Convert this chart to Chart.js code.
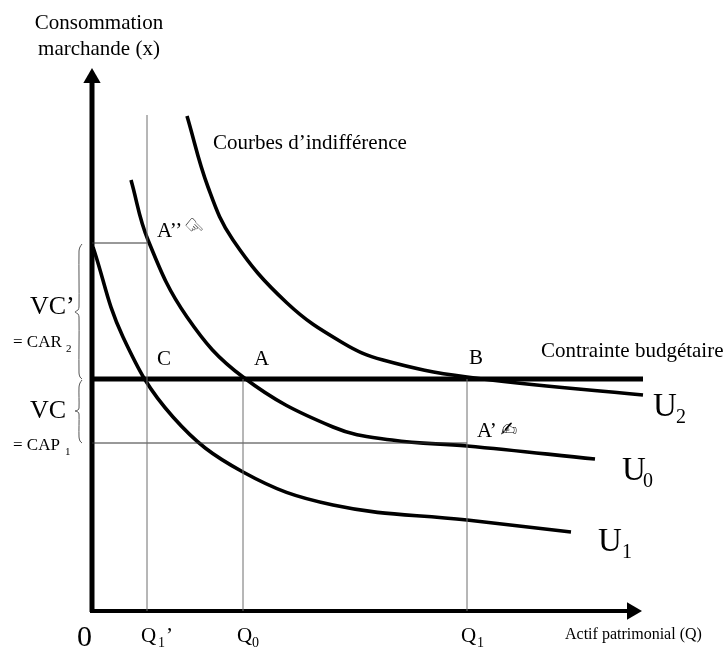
<!DOCTYPE html>
<html>
<head>
<meta charset="utf-8">
<title>Courbes d'indifférence</title>
<script src="https://cdn.jsdelivr.net/npm/chart.js@4/dist/chart.umd.min.js"></script>
<style>
    body { margin: 0; background: #fff; }
    canvas { display: block; }
</style>
</head>
<body>
<canvas id="myChart" width="727" height="648"></canvas>
<script>
// indifference curves, [Q, x]
const curveU2 = [[95, 495], [116, 424], [141, 371], [195, 308], [251, 268], [291, 251], [375, 234], [551, 216]];
const curveU0 = [[39, 431], [56, 371], [95, 294], [151, 234], [241, 184], [300, 171], [375, 165], [503, 152]];
const curveU1 = [[1, 364], [31, 274], [81, 194], [151, 139], [241, 106], [375, 91], [479, 79]];

// budget line and guide lines
const budgetY = 232;
const axisEndX = 540;
const axisEndY = 533;
const q1PrimeX = 55;
const q0X = 151;
const q1X = 375;
const q1PrimeTop = 496;
const aSecondY = 368;
const aPrimeY = 168;

// braces on the y axis
const braceUpper = [[-10, 367], [-12, 364], [-13, 360], [-13, 304], [-14, 301], [-17, 299], [-14, 297], [-13, 294], [-13, 238], [-12, 234], [-10, 232]];
const braceLower = [[-10, 231], [-12, 228], [-13, 224], [-13, 203], [-14, 201], [-17, 200], [-14, 199], [-13, 197], [-13, 174], [-12, 170], [-10, 168]];

function toPoints(list) {
    return list.map(p => ({x: p[0], y: p[1]}));
}

function createLine(data, width, color, tension) {
    return {
        data: data,
        showLine: true,
        borderColor: color,
        borderWidth: width,
        tension: tension,
        pointRadius: 0,
        fill: false
    };
}

function createHead(x, y, rotation) {
    return {
        data: [{x: x, y: y}],
        showLine: false,
        pointStyle: 'triangle',
        pointRadius: 10,
        pointRotation: rotation,
        backgroundColor: '#000',
        borderColor: '#000',
        borderWidth: 0
    };
}

const serif = '"Liberation Serif", "Times New Roman", serif';

// text, Q, x, font size, align
const labels = [
    ['Consommation', 7, 582, 21, 'center'],
    ['marchande (x)', 7, 556, 21, 'center'],
    ['Courbes d’indifférence', 121, 462, 21],
    ['Contrainte budgétaire', 449, 254, 21],
    ['A’’', 65, 374, 21],
    ['A', 162, 246, 21],
    ['B', 377, 247, 21],
    ['C', 65, 246, 21],
    ['A’', 385, 174, 21],
    ['VC’', -62, 297, 26],
    ['VC', -62, 193, 26],
    ['= CAR', -79, 264, 17],
    ['2', -26, 259, 11],
    ['= CAP', -79, 161, 17],
    ['1', -27, 156, 11],
    ['U', 561, 195, 33],
    ['2', 584, 188, 20],
    ['U', 530, 131, 33],
    ['0', 551, 124, 20],
    ['U', 506, 60, 33],
    ['1', 530, 53, 20],
    ['0', -15, -35, 30],
    ['Q', 49, -31, 21],
    ['1', 66, -36, 14],
    ['’', 74, -31, 21],
    ['Q', 145, -31, 21],
    ['0', 160, -36, 14],
    ['Q', 369, -31, 21],
    ['1', 385, -36, 14],
    ['Actif patrimonial (Q)', 473, -28, 16]
];

// glyph, Q, x, font size, rotation in degrees
const symbols = [
    ['\u261E', 101, 383, 22, 45],
    ['\u270D', 417, 180, 20, 0]
];

const textPlugin = {
    id: 'textLabels',
    afterDatasetsDraw(chart) {
        const c = chart.ctx;
        const sx = chart.scales.x;
        const sy = chart.scales.y;
        c.save();
        c.fillStyle = '#000';
        c.textBaseline = 'alphabetic';
        labels.forEach(l => {
            c.font = l[3] + 'px ' + serif;
            c.textAlign = l[4] || 'left';
            c.fillText(l[0], sx.getPixelForValue(l[1]), sy.getPixelForValue(l[2]));
        });
        c.textAlign = 'center';
        c.textBaseline = 'middle';
        symbols.forEach(l => {
            c.save();
            c.translate(sx.getPixelForValue(l[1]), sy.getPixelForValue(l[2]));
            c.rotate(l[4] * Math.PI / 180);
            c.font = l[3] + 'px "DejaVu Sans"';
            c.fillText(l[0], 0, 0);
            c.restore();
        });
        c.restore();
    }
};

const ctx = document.getElementById('myChart');

let chart1 = new Chart(ctx, {
    type: 'scatter',
    data: {
        datasets: [
            createLine([{x: q1PrimeX, y: 0}, {x: q1PrimeX, y: q1PrimeTop}], 1, '#6e6e6e', 0),
            createLine([{x: q0X, y: 0}, {x: q0X, y: budgetY}], 1, '#6e6e6e', 0),
            createLine([{x: q1X, y: 0}, {x: q1X, y: budgetY}], 1, '#6e6e6e', 0),
            createLine([{x: 0, y: aSecondY}, {x: q1PrimeX, y: aSecondY}], 1, '#333', 0),
            createLine([{x: 0, y: aPrimeY}, {x: q1X, y: aPrimeY}], 1, '#333', 0),
            createLine(toPoints(braceUpper), 1, '#555', 0.3),
            createLine(toPoints(braceLower), 1, '#555', 0.3),
            createLine(toPoints(curveU2), 3.6, '#000', 0.4),
            createLine(toPoints(curveU0), 3.6, '#000', 0.4),
            createLine(toPoints(curveU1), 3.6, '#000', 0.4),
            createLine([{x: 0, y: budgetY}, {x: 551, y: budgetY}], 5, '#000', 0),
            createLine([{x: 0, y: -1}, {x: 0, y: axisEndY}], 5, '#000', 0),
            createLine([{x: -2, y: 0}, {x: axisEndX, y: 0}], 4, '#000', 0),
            createHead(0, axisEndY, 0),
            createHead(axisEndX, 0, 90)
        ]
    },
    options: {
        responsive: false,
        animation: false,
        layout: {padding: 0, autoPadding: false},
        plugins: {
            legend: {display: false},
            tooltip: {enabled: false}
        },
        scales: {
            x: {type: 'linear', display: false, min: -92, max: 635},
            y: {type: 'linear', display: false, min: -37, max: 611}
        }
    },
    plugins: [textPlugin]
});
</script>
</body>
</html>
